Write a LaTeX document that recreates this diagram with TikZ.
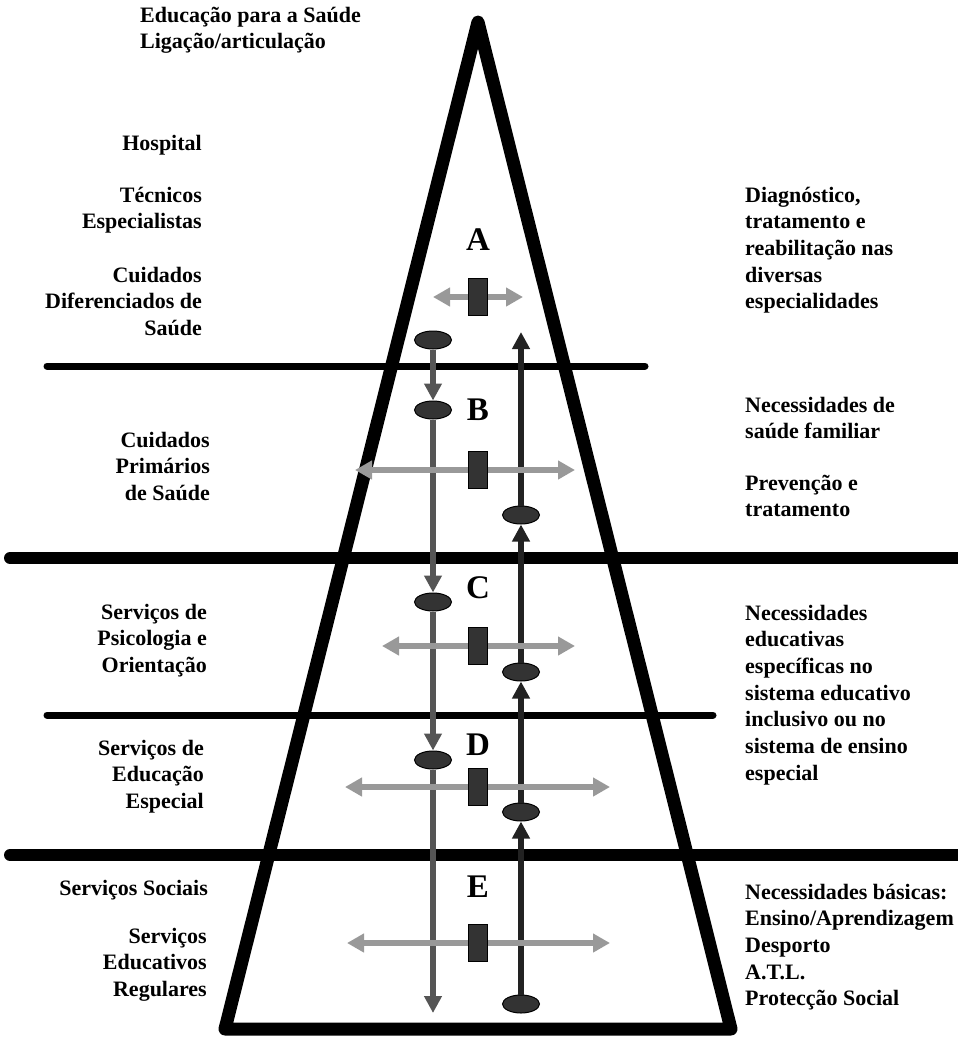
\documentclass[tikz,border=0pt]{standalone}
\usepackage{fontspec}
\setmainfont{Liberation Serif}
\usetikzlibrary{arrows.meta,shapes.geometric}
\definecolor{lightarrow}{HTML}{999999}
\definecolor{downarrow}{HTML}{555555}
\definecolor{uparrow}{HTML}{222222}
\definecolor{boxfill}{HTML}{333333}
\tikzset{
  txt/.style={inner sep=0pt, font=\fontsize{22}{26.7}\selectfont\bfseries},
  ltxt/.style={txt, align=right, anchor=base east},
  rtxt/.style={txt, align=left, anchor=base west},
  levelname/.style={inner sep=0pt, font=\fontsize{33}{36}\selectfont\bfseries},
  oval/.style={ellipse, draw=black, line width=1pt, fill=boxfill, minimum width=37pt, minimum height=18pt, inner sep=0pt},
  bar/.style={rectangle, draw=black, line width=1pt, fill=boxfill, minimum width=19pt, minimum height=37pt, inner sep=0pt},
  sidearrow/.style={draw=lightarrow, line width=6.5pt, -{Triangle[length=17pt,width=18pt]}},
  downflow/.style={draw=downarrow, line width=6pt, -{Triangle[length=17pt,width=17pt]}},
  upflow/.style={draw=uparrow, line width=6pt, -{Triangle[length=17pt,width=17pt]}},
  thinrule/.style={line width=7pt, line cap=round},
  thickrule/.style={line width=12pt, line cap=round},
}
\begin{document}
\begin{tikzpicture}[x=1pt, y=-1pt]
\useasboundingbox (0,0) rectangle (958,1037);

% horizontal rules
\draw[thinrule] (47,366) -- (645,366);
\draw[thickrule] (10,558) -- (958,558);
\draw[thinrule] (47,715) -- (713,715);
\draw[thickrule] (10,855) -- (958,855);

% pyramid
\draw[line width=13pt, line join=round] (478,22) -- (731,1029) -- (225,1029) -- cycle;

% level letters
\node[levelname] (lA) at (478,240) {A};
\node[levelname] (lB) at (478,410) {B};
\node[levelname] (lC) at (478,588) {C};
\node[levelname] (lD) at (478,745) {D};
\node[levelname] (lE) at (478,887) {E};

% ovals
\node[oval] (L1) at (433,340) {};
\node[oval] (L2) at (433,410) {};
\node[oval] (L3) at (433,602) {};
\node[oval] (L4) at (433,760) {};
\node[oval] (R1) at (521,515) {};
\node[oval] (R2) at (521,672) {};
\node[oval] (R3) at (521,812) {};
\node[oval] (R4) at (521,1004) {};
\coordinate (Lend) at (433,1013);
\coordinate (Rend) at (521,332);

% vertical flows
\draw[downflow] (L1) -- (L2);
\draw[downflow] (L2) -- (L3);
\draw[downflow] (L3) -- (L4);
\draw[downflow] (L4) -- (Lend);
\draw[upflow] (R1) -- (Rend);
\draw[upflow] (R2) -- (R1);
\draw[upflow] (R3) -- (R2);
\draw[upflow] (R4) -- (R3);

% bars and horizontal arrows
\node[bar] (bA) at (478,297) {};
\node[bar] (bB) at (478,470) {};
\node[bar] (bC) at (478,646) {};
\node[bar] (bD) at (478,787) {};
\node[bar] (bE) at (478,943) {};
\coordinate (aAl) at (433,297); \coordinate (aAr) at (523,297);
\coordinate (aBl) at (355,470); \coordinate (aBr) at (575,470);
\coordinate (aCl) at (382,646); \coordinate (aCr) at (575,646);
\coordinate (aDl) at (345,787); \coordinate (aDr) at (610,787);
\coordinate (aEl) at (347,943); \coordinate (aEr) at (610,943);
\foreach \b/\l/\r in {bA/aAl/aAr, bB/aBl/aBr, bC/aCl/aCr, bD/aDl/aDr, bE/aEl/aEr}{
  \draw[sidearrow] (\b) -- (\l);
  \draw[sidearrow] (\b) -- (\r);
}
\foreach \b in {bA,bB,bC,bD,bE}{
  \node[bar] at (\b) {};
}

% top text (anchored at the baseline of the last line)
\node[rtxt] (top) at (140,48.7) {Educação para a Saúde\\Ligação/articulação};

% left column
\node[ltxt] (t1) at (202,150) {Hospital};
\node[ltxt] (t2) at (202,228.7) {Técnicos\\Especialistas};
\node[ltxt] (t3) at (202,335.4) {Cuidados\\Diferenciados de\\Saúde};
\node[ltxt] (t4) at (210,500.4) {Cuidados\\Primários\\de Saúde};
\node[ltxt] (t5) at (207,672.4) {Serviços de\\Psicologia e\\Orientação};
\node[ltxt] (t6) at (204,808.4) {Serviços de\\Educação\\Especial};
\node[ltxt] (t7) at (208,895) {Serviços Sociais};
\node[ltxt] (t8) at (207,996.4) {Serviços\\Educativos\\Regulares};

% right column
\node[rtxt] (r1) at (745,308.8) {Diagnóstico,\\tratamento e\\reabilitação nas\\diversas\\especialidades};
\node[rtxt] (r2) at (745,438.7) {Necessidades de\\saúde familiar};
\node[rtxt] (r3) at (745,516.7) {Prevenção e\\tratamento};
\node[rtxt] (r4) at (745,780.2) {Necessidades\\educativas\\específicas no\\sistema educativo\\inclusivo ou no\\sistema de ensino\\especial};
\node[rtxt] (r5) at (745,1005.8) {Necessidades básicas:\\Ensino/Aprendizagem\\Desporto\\A.T.L.\\Protecção Social};
\end{tikzpicture}
\end{document}
